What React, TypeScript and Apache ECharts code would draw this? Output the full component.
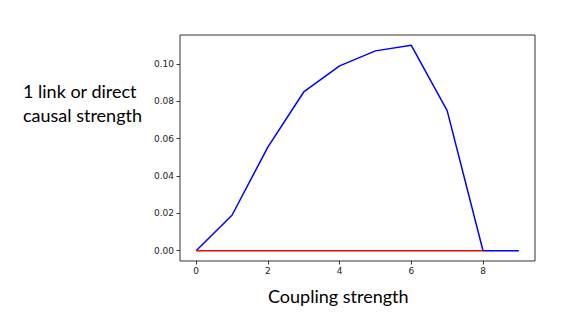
import React, { useEffect, useRef } from "react";
import * as echarts from "echarts";

const couplingStrength = [0, 1, 2, 3, 4, 5, 6, 7, 8, 9];
const causalStrength = [0.0, 0.019, 0.0555, 0.085, 0.099, 0.107, 0.11, 0.075, 0.0, 0.0];
const redX = [0, 8];
const redY = [0, 0];
const xTicks = [0, 2, 4, 6, 8];
const yTicks = [0, 0.02, 0.04, 0.06, 0.08, 0.1];

export default function App() {
  const ref = useRef<HTMLDivElement>(null);
  useEffect(() => {
    if (!ref.current) return;
    const chart = echarts.init(ref.current, null, { renderer: "svg" });
    const tickFont = { fontFamily: "DejaVu Sans", fontSize: 9, color: "#222" };
    chart.setOption({
      animation: false,
      backgroundColor: "#ffffff",
      grid: {
        left: 180,
        top: 35,
        width: 355,
        height: 226,
        show: true,
        borderColor: "#333",
        borderWidth: 1,
        backgroundColor: "transparent",
      },
      xAxis: {
        type: "value",
        min: -0.45,
        max: 9.45,
        axisLine: { show: false, onZero: false },
        splitLine: { show: false },
        axisTick: {
          show: true,
          length: 3.5,
          inside: false,
          customValues: xTicks,
          lineStyle: { color: "#333", width: 1 },
        },
        axisLabel: {
          ...tickFont,
          margin: 5,
          customValues: xTicks,
          formatter: (v: number) => String(v),
        },
      },
      yAxis: {
        type: "value",
        min: -0.0055,
        max: 0.1155,
        axisLine: { show: false, onZero: false },
        splitLine: { show: false },
        axisTick: {
          show: true,
          length: 3.5,
          inside: false,
          customValues: yTicks,
          lineStyle: { color: "#333", width: 1 },
        },
        axisLabel: {
          ...tickFont,
          margin: 6,
          customValues: yTicks,
          formatter: (v: number) => v.toFixed(2),
        },
      },
      series: [
        {
          type: "line",
          data: couplingStrength.map((x, i) => [x, causalStrength[i]]),
          showSymbol: false,
          lineStyle: { color: "#0000ff", width: 1.5 },
          z: 2,
        },
        {
          type: "line",
          data: redX.map((x, i) => [x, redY[i]]),
          showSymbol: false,
          lineStyle: { color: "#ff0000", width: 1.5 },
          z: 3,
        },
      ],
      graphic: [
        {
          type: "text",
          left: 23,
          top: 79,
          style: {
            text: "1 link or direct\ncausal strength",
            font: "18px Lato",
            fill: "#000",
            lineHeight: 24,
          },
        },
        {
          type: "text",
          left: 268,
          top: 287,
          style: {
            text: "Coupling strength",
            font: "18px Lato",
            fill: "#000",
          },
        },
      ],
    });
    return () => chart.dispose();
  }, []);
  return (
    <div
      ref={ref}
      style={{ position: "fixed", left: 0, top: 0, width: 581, height: 327 }}
    />
  );
}
